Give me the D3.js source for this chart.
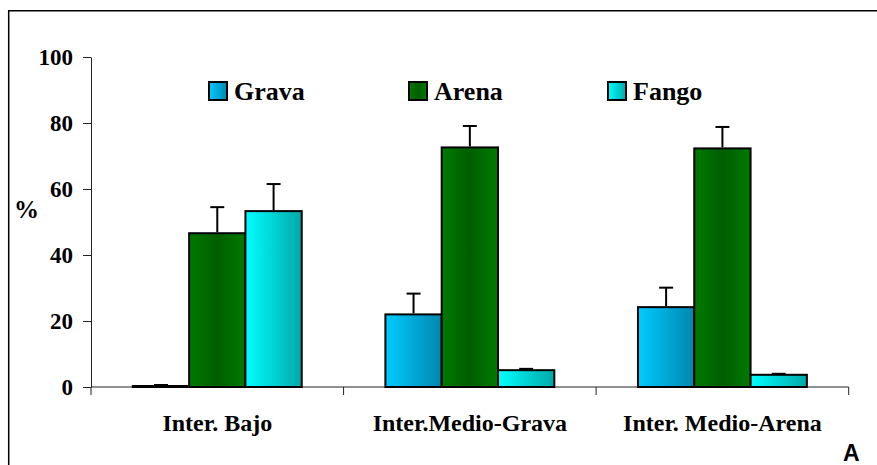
<!DOCTYPE html>
<html>
<head>
<meta charset="utf-8">
<script src="https://cdn.jsdelivr.net/npm/d3@7"></script>
<style>
  html, body { margin: 0; padding: 0; background: #fff; }
  svg { display: block; }
  text { font-family: "Liberation Serif", "Times New Roman", serif; font-weight: bold; fill: #000; }
</style>
</head>
<body>
<svg id="chart" width="877" height="465"></svg>
<script>
// Sediment composition (%) per intertidal zone
const categories = ["Inter. Bajo", "Inter.Medio-Grava", "Inter. Medio-Arena"];
const series = ["Grava", "Arena", "Fango"];
const gravaValues = [0.3, 22.0, 24.2];
const arenaValues = [46.6, 72.6, 72.3];
const fangoValues = [53.3, 5.1, 3.7];
const gravaErrors = [0.3, 6.3, 5.9];
const arenaErrors = [7.9, 6.5, 6.5];
const fangoErrors = [8.2, 0.4, 0.3];
const yTicks = [0, 20, 40, 60, 80, 100];

const values = { Grava: gravaValues, Arena: arenaValues, Fango: fangoValues };
const errors = { Grava: gravaErrors, Arena: arenaErrors, Fango: fangoErrors };

const svg = d3.select("#chart");

// Gradients for the bar fills
const defs = svg.append("defs");
function linGrad(id, stops) {
  const g = defs.append("linearGradient").attr("id", id)
    .attr("x1", "0%").attr("x2", "100%").attr("y1", "0%").attr("y2", "0%");
  stops.forEach(([o, c]) => g.append("stop").attr("offset", o).attr("stop-color", c));
}
linGrad("g-Grava", [["0%", "#00ccff"], ["100%", "#0086ae"]]);
linGrad("g-Arena", [["0%", "#007a00"], ["50%", "#005e00"], ["100%", "#007a00"]]);
linGrad("g-Fango", [["0%", "#00ffff"], ["100%", "#00a8a8"]]);

// Outer frame (left and top edges)
svg.append("path")
  .attr("d", "M8.7,470 V10.7 H885")
  .attr("fill", "none").attr("stroke", "#000").attr("stroke-width", 1.5);

const x0 = d3.scaleBand().domain(categories).range([91, 848.7]).padding(0);
const x1 = d3.scaleBand().domain(series).range([0, x0.bandwidth()])
  .paddingInner(0).paddingOuter(0.743);
const y = d3.scaleLinear().domain([0, 100]).range([387, 57]);

// Y axis
const yAxis = svg.append("g").attr("transform", "translate(91,0)")
  .call(d3.axisLeft(y).tickValues(yTicks).tickSize(8).tickSizeOuter(0).tickPadding(10));
yAxis.select(".domain").attr("stroke", "#222");
yAxis.selectAll(".tick line").attr("stroke", "#222");
yAxis.selectAll(".tick text").style("font-size", "23px")
  .style("font-family", "Liberation Serif, serif").style("font-weight", "bold").attr("fill", "#000");

// X axis: ticks at category boundaries
svg.append("line").attr("x1", 91).attr("x2", 848.7).attr("y1", 387).attr("y2", 387)
  .attr("stroke", "#222");
const bounds = categories.map(c => x0(c)).concat([x0(categories[categories.length - 1]) + x0.bandwidth()]);
svg.selectAll(".xtick").data(bounds).enter().append("line")
  .attr("x1", d => d).attr("x2", d => d).attr("y1", 387).attr("y2", 395)
  .attr("stroke", "#222");
svg.selectAll(".xlabel").data(categories).enter().append("text")
  .attr("x", d => x0(d) + x0.bandwidth() / 2).attr("y", 431)
  .attr("text-anchor", "middle").style("font-size", "24px").text(d => d);

// Bars
const groups = svg.selectAll(".grp").data(categories).enter().append("g")
  .attr("transform", d => `translate(${x0(d)},0)`);

series.forEach(s => {
  groups.append("rect")
    .attr("x", x1(s)).attr("width", x1.bandwidth())
    .attr("y", (d, i) => y(values[s][i]))
    .attr("height", (d, i) => y(0) - y(values[s][i]))
    .attr("fill", `url(#g-${s})`).attr("stroke", "#000").attr("stroke-width", 2);
});

// Error bars (upper only)
series.forEach(s => {
  const cx = x1(s) + x1.bandwidth() / 2;
  groups.append("line")
    .attr("x1", cx).attr("x2", cx)
    .attr("y1", (d, i) => y(values[s][i]) - 1)
    .attr("y2", (d, i) => y(values[s][i] + errors[s][i]))
    .attr("stroke", "#000").attr("stroke-width", 2);
  groups.append("line")
    .attr("x1", cx - 7).attr("x2", cx + 7)
    .attr("y1", (d, i) => y(values[s][i] + errors[s][i]))
    .attr("y2", (d, i) => y(values[s][i] + errors[s][i]))
    .attr("stroke", "#000").attr("stroke-width", 2);
});

// Legend
const legendX = [209, 409, 608];
const legend = svg.selectAll(".leg").data(series).enter().append("g")
  .attr("transform", (d, i) => `translate(${legendX[i]},82)`);
legend.append("rect").attr("width", 18).attr("height", 18)
  .attr("fill", d => `url(#g-${d})`).attr("stroke", "#000").attr("stroke-width", 2);
legend.append("text").attr("x", 25).attr("y", 18).style("font-size", "26px").text(d => d);

// Y-axis unit label
svg.append("text").attr("x", 14).attr("y", 218).style("font-size", "25px").text("%");

// Panel letter
svg.append("text").attr("x", 843).attr("y", 461)
  .style("font-family", "Liberation Sans, Arial, sans-serif").style("font-size", "23px").text("A");
</script>
</body>
</html>
